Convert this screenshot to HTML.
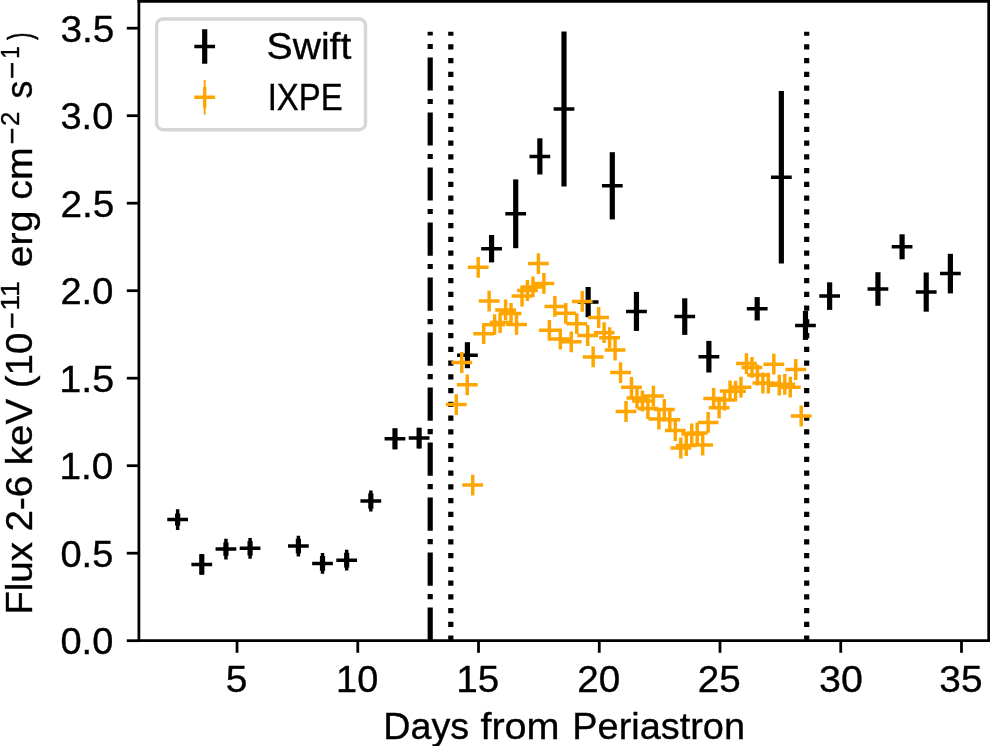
<!DOCTYPE html>
<html><head><meta charset="utf-8"><title>chart</title>
<style>html,body{margin:0;padding:0;background:#fff;width:990px;height:746px;overflow:hidden}svg{display:block;will-change:transform}</style>
</head><body>
<svg width="990" height="746" viewBox="0 0 990 746">
<rect width="990" height="746" fill="#fff"/>
<g fill="none" stroke="#000" stroke-width="5.19">
<path d="M430.2 640.7V31.7" stroke-dasharray="33.22 8.3 5.19 8.3"/>
<path d="M450.8 640.7V31.7" stroke-dasharray="5.19 8.56"/>
<path d="M806.7 640.7V31.7" stroke-dasharray="5.19 8.56"/>
</g>
<g stroke="#000" fill="none">
<path d="M177.64 513.6V525.6" stroke-width="5.19"/>
<path d="M167.26 519.6h20.76M177.64 509.22v20.76" stroke-width="3.46"/>
<path d="M201.78 554.2V574.6" stroke-width="5.19"/>
<path d="M191.4 564.4h20.76M201.78 554.02v20.76" stroke-width="3.46"/>
<path d="M225.93 542.4V555.8" stroke-width="5.19"/>
<path d="M215.55 549.1h20.76M225.93 538.72v20.76" stroke-width="3.46"/>
<path d="M250.08 541.1V555.5" stroke-width="5.19"/>
<path d="M239.7 548.3h20.76M250.08 537.92v20.76" stroke-width="3.46"/>
<path d="M298.38 538.8V553.4" stroke-width="5.19"/>
<path d="M288 546.1h20.76M298.38 535.72v20.76" stroke-width="3.46"/>
<path d="M322.52 556V570.8" stroke-width="5.19"/>
<path d="M312.14 563.4h20.76M322.52 553.02v20.76" stroke-width="3.46"/>
<path d="M346.67 552.8V567.6" stroke-width="5.19"/>
<path d="M336.29 560.2h20.76M346.67 549.82v20.76" stroke-width="3.46"/>
<path d="M370.82 493.3V508.7" stroke-width="5.19"/>
<path d="M360.44 501h20.76M370.82 490.62v20.76" stroke-width="3.46"/>
<path d="M394.97 428.3V449.3" stroke-width="5.19"/>
<path d="M384.59 438.8h20.76M394.97 428.42v20.76" stroke-width="3.46"/>
<path d="M419.12 427.8V448.4" stroke-width="5.19"/>
<path d="M408.74 438.1h20.76M419.12 427.72v20.76" stroke-width="3.46"/>
<path d="M467.41 342.2V368.2" stroke-width="5.19"/>
<path d="M457.03 355.2h20.76M467.41 344.82v20.76" stroke-width="3.46"/>
<path d="M491.56 235V262.4" stroke-width="5.19"/>
<path d="M481.18 248.7h20.76M491.56 238.32v20.76" stroke-width="3.46"/>
<path d="M515.71 179.4V248.2" stroke-width="5.19"/>
<path d="M505.33 213.8h20.76M515.71 203.42v20.76" stroke-width="3.46"/>
<path d="M539.86 138.3V174.5" stroke-width="5.19"/>
<path d="M529.48 156.4h20.76M539.86 146.02v20.76" stroke-width="3.46"/>
<path d="M564 31.6V186.6" stroke-width="5.19"/>
<path d="M553.62 109.1h20.76M564 98.72v20.76" stroke-width="3.46"/>
<path d="M588.15 287V317.2" stroke-width="5.19"/>
<path d="M577.77 302.1h20.76M588.15 291.72v20.76" stroke-width="3.46"/>
<path d="M612.3 152.2V219.4" stroke-width="5.19"/>
<path d="M601.92 185.8h20.76M612.3 175.42v20.76" stroke-width="3.46"/>
<path d="M636.45 291.9V330.9" stroke-width="5.19"/>
<path d="M626.07 311.4h20.76M636.45 301.02v20.76" stroke-width="3.46"/>
<path d="M684.74 298.3V334.9" stroke-width="5.19"/>
<path d="M674.36 316.6h20.76M684.74 306.22v20.76" stroke-width="3.46"/>
<path d="M708.89 340.9V372.5" stroke-width="5.19"/>
<path d="M698.51 356.7h20.76M708.89 346.32v20.76" stroke-width="3.46"/>
<path d="M757.19 297.1V320.5" stroke-width="5.19"/>
<path d="M746.81 308.8h20.76M757.19 298.42v20.76" stroke-width="3.46"/>
<path d="M781.34 91V263.4" stroke-width="5.19"/>
<path d="M770.96 177.2h20.76M781.34 166.82v20.76" stroke-width="3.46"/>
<path d="M805.48 310.9V339.9" stroke-width="5.19"/>
<path d="M795.1 325.4h20.76M805.48 315.02v20.76" stroke-width="3.46"/>
<path d="M829.63 282.3V309.9" stroke-width="5.19"/>
<path d="M819.25 296.1h20.76M829.63 285.72v20.76" stroke-width="3.46"/>
<path d="M877.93 272.2V305.8" stroke-width="5.19"/>
<path d="M867.55 289h20.76M877.93 278.62v20.76" stroke-width="3.46"/>
<path d="M902.08 234.3V259.3" stroke-width="5.19"/>
<path d="M891.7 246.8h20.76M902.08 236.42v20.76" stroke-width="3.46"/>
<path d="M926.22 272.5V311.7" stroke-width="5.19"/>
<path d="M915.84 292.1h20.76M926.22 281.72v20.76" stroke-width="3.46"/>
<path d="M950.37 253.8V293.4" stroke-width="5.19"/>
<path d="M939.99 273.6h20.76M950.37 263.22v20.76" stroke-width="3.46"/>
</g>
<g stroke="#ffa500" fill="none" stroke-width="3.46">
<path d="M445.92 404.6h20.76M456.3 394.22v20.76M451.4 362.5h20.76M461.78 352.12v20.76M456.87 384.8h20.76M467.25 374.42v20.76M462.35 485.1h20.76M472.73 474.72v20.76M467.82 267.3h20.76M478.2 256.92v20.76M473.3 333.7h20.76M483.68 323.32v20.76M478.77 301.1h20.76M489.15 290.72v20.76M484.25 324.7h20.76M494.62 314.32v20.76M489.72 322.6h20.76M500.1 312.22v20.76M495.19 309.9h20.76M505.57 299.52v20.76M500.67 313.5h20.76M511.05 303.12v20.76M506.14 324.4h20.76M516.52 314.02v20.76M511.62 296h20.76M522 285.62v20.76M517.1 290.5h20.76M527.48 280.12v20.76M522.57 286.9h20.76M532.95 276.52v20.76M528.04 263.6h20.76M538.42 253.22v20.76M533.52 283.4h20.76M543.9 273.02v20.76M539 330.3h20.76M549.38 319.92v20.76M544.47 306.4h20.76M554.85 296.02v20.76M549.95 339h20.76M560.33 328.62v20.76M555.42 313.3h20.76M565.8 302.92v20.76M560.89 341.8h20.76M571.27 331.42v20.76M566.37 323.7h20.76M576.75 313.32v20.76M571.85 301.4h20.76M582.23 291.02v20.76M577.32 335.5h20.76M587.7 325.12v20.76M582.79 356.9h20.76M593.17 346.52v20.76M588.27 317.5h20.76M598.65 307.12v20.76M593.75 332.7h20.76M604.12 322.32v20.76M599.22 337.7h20.76M609.6 327.32v20.76M604.7 350h20.76M615.08 339.62v20.76M610.17 372.6h20.76M620.55 362.22v20.76M615.64 411.5h20.76M626.02 401.12v20.76M621.12 387.3h20.76M631.5 376.92v20.76M626.6 398h20.76M636.98 387.62v20.76M632.07 401h20.76M642.45 390.62v20.76M637.54 408.5h20.76M647.92 398.12v20.76M643.02 396.1h20.76M653.4 385.72v20.76M648.5 419.1h20.76M658.88 408.72v20.76M653.97 409.5h20.76M664.35 399.12v20.76M659.45 419.8h20.76M669.83 409.42v20.76M664.92 430.6h20.76M675.3 420.22v20.76M670.39 448h20.76M680.77 437.62v20.76M675.87 445.6h20.76M686.25 435.22v20.76M681.35 434h20.76M691.73 423.62v20.76M686.82 433h20.76M697.2 422.62v20.76M692.29 445.1h20.76M702.67 434.72v20.76M697.77 422.4h20.76M708.15 412.02v20.76M703.25 398.5h20.76M713.62 388.12v20.76M708.72 407.8h20.76M719.1 397.42v20.76M714.2 400h20.76M724.58 389.62v20.76M719.67 391h20.76M730.05 380.62v20.76M725.14 391.2h20.76M735.52 380.82v20.76M730.62 387.2h20.76M741 376.82v20.76M736.09 363.6h20.76M746.47 353.22v20.76M741.57 367.4h20.76M751.95 357.02v20.76M747.04 375h20.76M757.42 364.62v20.76M752.52 383h20.76M762.9 372.62v20.76M758 383.2h20.76M768.38 372.82v20.76M763.47 364.2h20.76M773.85 353.82v20.76M768.95 385.2h20.76M779.33 374.82v20.76M774.42 384.3h20.76M784.8 373.92v20.76M779.89 387.2h20.76M790.27 376.82v20.76M785.37 369.5h20.76M795.75 359.12v20.76M790.84 416h20.76M801.22 405.62v20.76"/>
</g>
<g stroke="#000" stroke-width="2.77" fill="none" stroke-linecap="square">
<path d="M138.9 640.7V1.3"/>
<path d="M988.7 640.7V1.3"/>
<path d="M138.9 640.7H988.7"/>
<path d="M138.9 1.3H988.7"/>
</g>
<g stroke="#000" stroke-width="2.77">
<path d="M126.79 640.7H138.9"/>
<path d="M126.79 553.2H138.9"/>
<path d="M126.79 465.7H138.9"/>
<path d="M126.79 378.2H138.9"/>
<path d="M126.79 290.7H138.9"/>
<path d="M126.79 203.2H138.9"/>
<path d="M126.79 115.7H138.9"/>
<path d="M126.79 28.2H138.9"/>
<path d="M237.04 640.7V652.81"/>
<path d="M357.78 640.7V652.81"/>
<path d="M478.52 640.7V652.81"/>
<path d="M599.26 640.7V652.81"/>
<path d="M720 640.7V652.81"/>
<path d="M840.74 640.7V652.81"/>
<path d="M961.48 640.7V652.81"/>
</g>
<rect x="156.6" y="18.9" width="208.9" height="110.9" rx="6.5" ry="6.5" fill="#fff" stroke="#d6d6d6" stroke-width="3.46"/>
<path d="M204.7 29.25V63.75" stroke="#000" stroke-width="5.19"/>
<path d="M194.32 46.5h20.76M204.7 36.12v20.76" stroke="#000" stroke-width="3.46" fill="none"/>
<path d="M204.7 80V114.6" stroke="#ffa500" stroke-width="2"/>
<path d="M194.32 97.3h20.76M204.7 86.92v20.76" stroke="#ffa500" stroke-width="3.46" fill="none"/>
<g font-family="'Liberation Sans', sans-serif" fill="#000" stroke="#000" stroke-width="0.35">
<text x="113.32" y="654" font-size="37.3" text-anchor="end" textLength="52.84" lengthAdjust="spacingAndGlyphs">0.0</text>
<text x="113.34" y="566.5" font-size="37.3" text-anchor="end" textLength="52.88" lengthAdjust="spacingAndGlyphs">0.5</text>
<text x="113.34" y="479" font-size="37.3" text-anchor="end" textLength="53.94" lengthAdjust="spacingAndGlyphs">1.0</text>
<text x="114.4" y="391.5" font-size="37.3" text-anchor="end" textLength="55.04" lengthAdjust="spacingAndGlyphs">1.5</text>
<text x="113.32" y="304" font-size="37.3" text-anchor="end" textLength="52.86" lengthAdjust="spacingAndGlyphs">2.0</text>
<text x="114.36" y="216.5" font-size="37.3" text-anchor="end" textLength="53.92" lengthAdjust="spacingAndGlyphs">2.5</text>
<text x="113.32" y="129" font-size="37.3" text-anchor="end" textLength="52.86" lengthAdjust="spacingAndGlyphs">3.0</text>
<text x="114.36" y="41.5" font-size="37.3" text-anchor="end" textLength="53.92" lengthAdjust="spacingAndGlyphs">3.5</text>
<text x="236.74" y="691.9" font-size="37.3" text-anchor="middle" textLength="21.71" lengthAdjust="spacingAndGlyphs">5</text>
<text x="357.19" y="691.9" font-size="37.3" text-anchor="middle" textLength="42.15" lengthAdjust="spacingAndGlyphs">10</text>
<text x="477.72" y="691.9" font-size="37.3" text-anchor="middle" textLength="43" lengthAdjust="spacingAndGlyphs">15</text>
<text x="598.86" y="691.9" font-size="37.3" text-anchor="middle" textLength="43.03" lengthAdjust="spacingAndGlyphs">20</text>
<text x="719.2" y="691.9" font-size="37.3" text-anchor="middle" textLength="43" lengthAdjust="spacingAndGlyphs">25</text>
<text x="840.94" y="691.9" font-size="37.3" text-anchor="middle" textLength="43.87" lengthAdjust="spacingAndGlyphs">30</text>
<text x="960.98" y="691.9" font-size="37.3" text-anchor="middle" textLength="43.22" lengthAdjust="spacingAndGlyphs">35</text>
<text x="383.25" y="738.9" font-size="37.3" text-anchor="start" textLength="85.83" lengthAdjust="spacingAndGlyphs">Days</text>
<text x="480.4" y="738.9" font-size="37.3" text-anchor="start" textLength="79.23" lengthAdjust="spacingAndGlyphs">from</text>
<text x="572.35" y="738.9" font-size="37.3" text-anchor="start" textLength="172.68" lengthAdjust="spacingAndGlyphs">Periastron</text>
<text x="266.6" y="59.2" font-size="37.3" text-anchor="start" textLength="84.71" lengthAdjust="spacingAndGlyphs">Swift</text>
<text x="267.7" y="110.1" font-size="37.3" text-anchor="start" textLength="75.01" lengthAdjust="spacingAndGlyphs">IXPE</text>
<text transform="translate(32.2 0) rotate(-90)" x="-614.79" y="0" font-size="37.3" textLength="282.09" lengthAdjust="spacingAndGlyphs">Flux 2-6 keV (10</text>
<text transform="translate(32.2 0) rotate(-90)" x="-328.72" y="-11.45" font-size="26.11" textLength="16.25" lengthAdjust="spacingAndGlyphs" stroke="#000" stroke-width="0.7">−</text>
<text transform="translate(32.2 0) rotate(-90)" x="-310.8" y="-13.4" font-size="26.11" textLength="29.79" lengthAdjust="spacingAndGlyphs">11</text>
<text transform="translate(32.2 0) rotate(-90)" x="-267.22" y="0" font-size="37.3" textLength="119.85" lengthAdjust="spacingAndGlyphs">erg cm</text>
<text transform="translate(32.2 0) rotate(-90)" x="-144.26" y="-11.45" font-size="26.11" textLength="16.52" lengthAdjust="spacingAndGlyphs" stroke="#000" stroke-width="0.7">−</text>
<text transform="translate(32.2 0) rotate(-90)" x="-126.02" y="-13.4" font-size="26.11" textLength="14.28" lengthAdjust="spacingAndGlyphs">2</text>
<text transform="translate(32.2 0) rotate(-90)" x="-98.42" y="0" font-size="37.3" textLength="17.76" lengthAdjust="spacingAndGlyphs">s</text>
<text transform="translate(32.2 0) rotate(-90)" x="-78.65" y="-11.45" font-size="26.11" textLength="16.74" lengthAdjust="spacingAndGlyphs" stroke="#000" stroke-width="0.7">−</text>
<text transform="translate(32.2 0) rotate(-90)" x="-58.63" y="-13.4" font-size="26.11" textLength="12.53" lengthAdjust="spacingAndGlyphs">1</text>
<text transform="translate(32.2 0) rotate(-90)" x="-39.7" y="-1" font-size="33" textLength="7.21" lengthAdjust="spacingAndGlyphs" stroke="#000" stroke-width="0.7">)</text>
</g>
</svg>
</body></html>
